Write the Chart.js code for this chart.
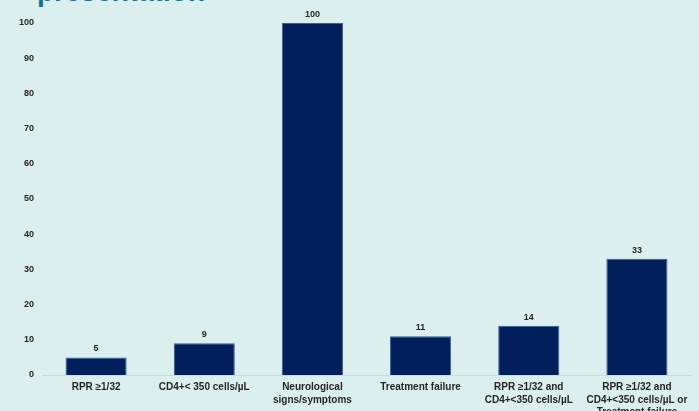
<!DOCTYPE html>
<html>
<head>
<meta charset="utf-8">
<script src="https://cdn.jsdelivr.net/npm/chart.js@4"></script>
<style>
    html, body { margin: 0; padding: 0; width: 699px; height: 411px; overflow: hidden; background: #dbefef; }
    #title { position: absolute; left: 37px; top: -24px; font: bold 28px "Liberation Sans", Arial, sans-serif; color: #1a6f8c; white-space: nowrap; }
    #wrap { position: absolute; left: 0; top: 0; width: 699px; height: 422px; }
</style>
</head>
<body>
<div id="title">presentation</div>
<div id="wrap"><canvas id="chart"></canvas></div>
<script>
(function () {
    'use strict';

    var categories = [
        'RPR ≥1/32',
        'CD4+< 350 cells/µL',
        ['Neurological', 'signs/symptoms'],
        'Treatment failure',
        ['RPR ≥1/32 and', 'CD4+<350 cells/µL'],
        ['RPR ≥1/32 and', 'CD4+<350 cells/µL or', 'Treatment failure']
    ];
    var values = [5, 9, 100, 11, 14, 33];
    var yTicks = [0, 10, 20, 30, 40, 50, 60, 70, 80, 90, 100];

    // value labels over each bar
    var barLabels = {
        id: 'barLabels',
        afterDatasetsDraw: function (chart) {
            var ctx = chart.ctx;
            var meta = chart.getDatasetMeta(0);
            ctx.save();
            ctx.font = 'bold 9px "Liberation Sans", Arial, sans-serif';
            ctx.fillStyle = '#262626';
            ctx.textAlign = 'center';
            ctx.textBaseline = 'bottom';
            meta.data.forEach(function (bar, i) {
                ctx.fillText(String(values[i]), bar.x, bar.y - 4);
            });
            ctx.restore();
        }
    };

    Chart.defaults.font.family = '"Liberation Sans", Arial, sans-serif';
    Chart.defaults.color = '#262626';

    new Chart(document.getElementById('chart').getContext('2d'), {
        type: 'bar',
        data: {
            labels: categories,
            datasets: [{
                data: values,
                backgroundColor: '#001f5b',
                borderColor: '#3d5f94',
                borderWidth: 1,
                categoryPercentage: 1,
                barPercentage: 0.565
            }]
        },
        options: {
            responsive: true,
            maintainAspectRatio: false,
            animation: false,
            layout: { padding: { top: 23, right: 8, left: 0, bottom: 0 } },
            plugins: {
                legend: { display: false },
                tooltip: { enabled: false }
            },
            scales: {
                x: {
                    grid: { display: false, drawTicks: false },
                    border: { display: true, color: '#c9dcdc', width: 1 },
                    ticks: {
                        maxRotation: 0,
                        autoSkip: false,
                        padding: 6,
                        font: { size: 10, weight: 'bold', lineHeight: 1.25 }
                    },
                    afterFit: function (scale) { scale.height = 47; }
                },
                y: {
                    min: 0,
                    max: 100,
                    afterBuildTicks: function (scale) {
                        scale.ticks = yTicks.map(function (v) { return { value: v }; });
                    },
                    grid: { display: false, drawTicks: false },
                    border: { display: false },
                    ticks: {
                        padding: 8,
                        font: { size: 9, weight: 'bold' }
                    },
                    afterFit: function (scale) { scale.width = 42; }
                }
            }
        },
        plugins: [barLabels]
    });
})();
</script>
</body>
</html>
